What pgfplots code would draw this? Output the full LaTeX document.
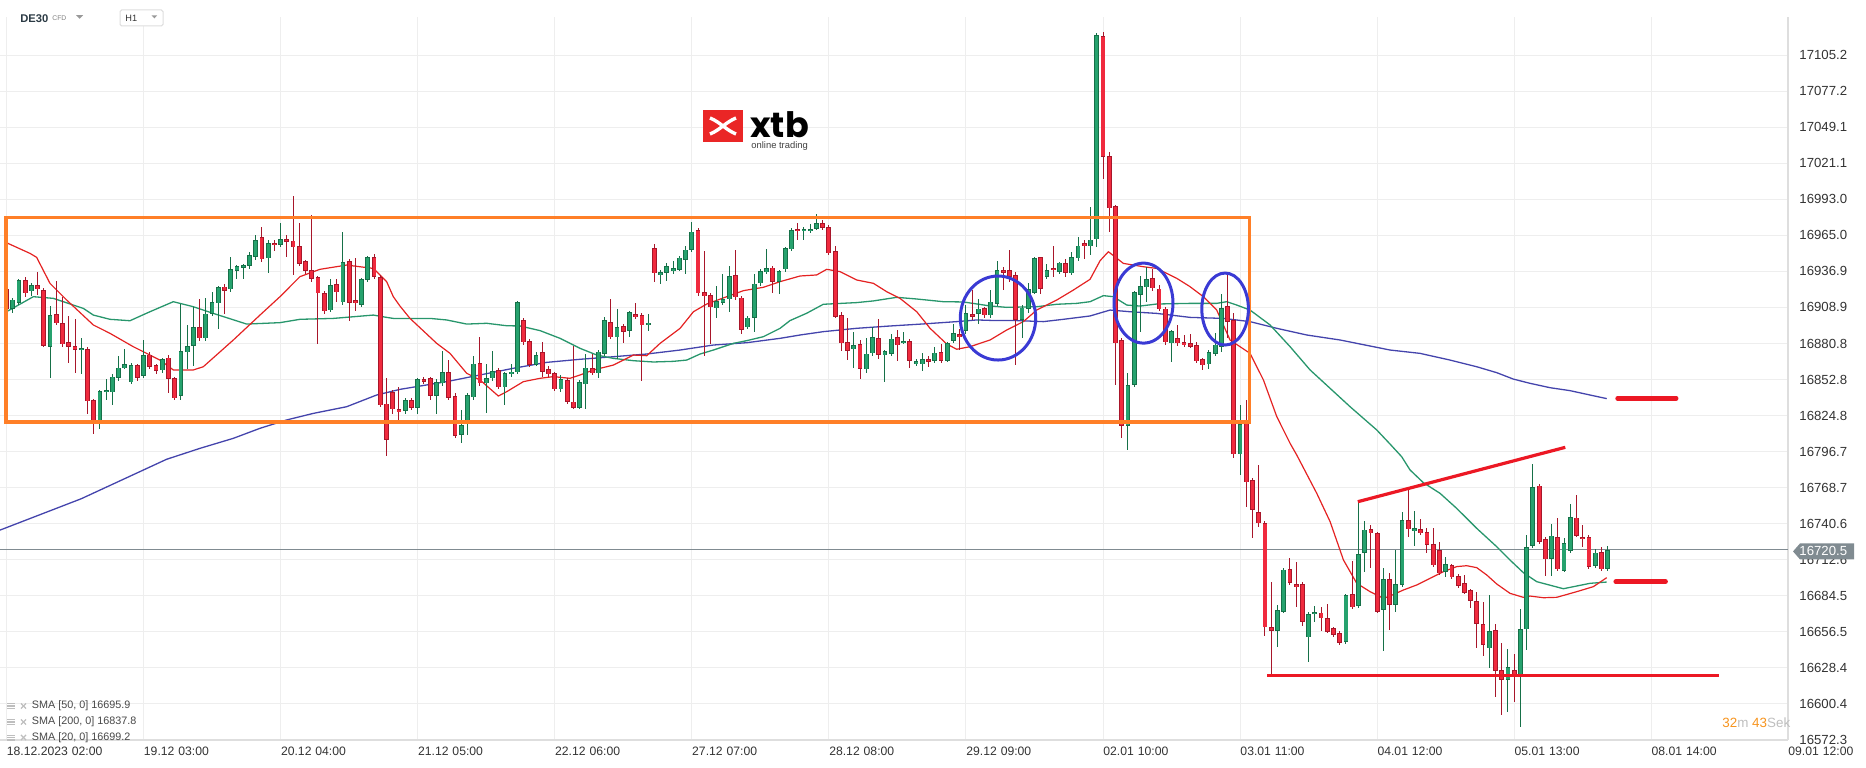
\documentclass[border=0pt]{standalone}
\usepackage{pgfplots}
\pgfplotsset{compat=1.18}
\usepackage{pgfplotstable}
\usepackage{fontspec}
\setmainfont{Liberation Sans}
\newfontfamily\logofont{Poppins}
\usetikzlibrary{shapes.geometric}

\definecolor{upfill}{RGB}{38,162,110}
\definecolor{upline}{RGB}{22,112,72}
\definecolor{dnfill}{RGB}{240,42,62}
\definecolor{dnline}{RGB}{168,22,42}
\definecolor{smared}{RGB}{228,34,34}
\definecolor{smagreen}{RGB}{40,150,108}
\definecolor{smablue}{RGB}{68,68,172}
\definecolor{gridc}{RGB}{238,238,238}
\definecolor{axisc}{RGB}{222,222,222}
\definecolor{boxorange}{RGB}{255,127,39}
\definecolor{ellblue}{RGB}{58,58,212}
\definecolor{annred}{RGB}{236,24,36}
\definecolor{pricegray}{RGB}{128,139,145}
\definecolor{txt}{RGB}{51,51,51}
\definecolor{hdr}{RGB}{43,58,68}
\definecolor{xtbred}{RGB}{234,38,38}
\definecolor{timeorange}{RGB}{247,148,30}
\definecolor{lightg}{RGB}{190,190,190}

\pgfplotstableread{
k o h l c
1 16908.1 16916 16904.8 16915.1
2 16912.5 16931 16911 16930.2
4 16921.4 16928.4 16918 16926
7 16878.3 16909.9 16854.2 16902.7
12 16875.5 16885.1 16857.3 16877
15 16820.7 16844.6 16814.5 16843.6
16 16842.8 16853.2 16836.8 16844.6
17 16842.8 16857 16833.2 16855.2
18 16853.9 16871.3 16852 16862.2
19 16861.5 16876.5 16860.7 16864.8
20 16850.6 16866 16849 16864
22 16855.7 16883.5 16854 16871.8
25 16859.9 16869.8 16858 16868.5
28 16840.2 16911.5 16836.8 16874.7
29 16873.9 16895.2 16860.7 16879.1
30 16879.1 16909.4 16863.5 16893.6
32 16884.8 16916.7 16883 16904.2
33 16904.2 16920.6 16902 16912.8
34 16912 16925.5 16891.8 16924.5
36 16922.9 16948.3 16921 16938.5
37 16937.2 16941.8 16931.2 16940.8
38 16939.8 16943 16931.2 16941.8
39 16941.1 16952.2 16939 16949.4
40 16948.3 16965.2 16946 16961
42 16947 16961.3 16935.9 16958.7
44 16957.7 16974.8 16956 16961.8
52 16906.6 16931.2 16905 16926.5
54 16912.8 16967.2 16911 16944.2
57 16911 16932 16909 16930.7
58 16930.2 16949 16929 16947.8
64 16828.5 16838 16826 16836.8
66 16831.1 16854.2 16826.4 16853.2
69 16840.2 16853.2 16825.7 16850.8
70 16849.8 16874.9 16848 16858.3
73 16809.9 16829 16803.1 16817.1
74 16817.9 16842 16809.6 16840.7
75 16838.9 16871.3 16837 16865.3
77 16849.8 16864.8 16826.4 16853.7
78 16853.7 16874.9 16852 16859.1
80 16846.7 16859 16833.2 16857.6
81 16856.8 16865.3 16855 16858.9
82 16858.3 16913.8 16857 16912.8
85 16864.3 16874.4 16863 16871.8
89 16845.1 16856.3 16843.5 16852.9
92 16831.1 16852 16830 16850.8
93 16849 16872.6 16829.6 16862.2
95 16857.6 16876 16853.7 16874.4
96 16872.6 16901.7 16871 16899.1
98 16885.6 16907.9 16869.2 16893.6
100 16890.8 16906.5 16886.1 16905
103 16895.4 16903.7 16890.8 16897.2
105 16933.8 16938 16926.8 16936.4
106 16935.9 16943.1 16929.6 16940.8
107 16937.2 16945.5 16934.8 16939.2
108 16938.5 16949 16937 16947.8
109 16946.2 16956.9 16934.8 16954
110 16954 16975.3 16952 16968
114 16908.1 16925.8 16900.3 16913.8
115 16912.5 16935.4 16911 16915.4
116 16915.1 16941.3 16905.5 16933
119 16893.4 16902.5 16892 16901.1
120 16901.1 16934.8 16890 16927.6
121 16927.6 16939 16926 16937.2
122 16936.1 16954.3 16935 16939.2
124 16928.6 16938.5 16919.8 16937.2
125 16938.5 16956 16936.4 16954.8
126 16954 16970.5 16953 16969.1
128 16968 16971.5 16961.3 16970.1
129 16968 16973.8 16967 16970.1
130 16970.1 16982 16969 16974.3
136 16876.3 16890 16861.5 16879.4
138 16860.7 16884.8 16857.6 16873.1
139 16873.1 16893.9 16871.5 16885.6
141 16871.6 16875.7 16851.1 16874.9
142 16873.1 16888.2 16871.5 16884.8
144 16880.9 16889.5 16880.1 16882.5
146 16864.6 16868.5 16863.5 16867.2
147 16864.6 16873.7 16859.7 16868.5
149 16867.2 16877.8 16866 16873.9
151 16867.4 16882 16866 16880.9
152 16883 16896 16881.7 16888.7
154 16890.8 16911 16888.7 16904.3
156 16903.7 16915.9 16896 16908.1
158 16902.7 16922.4 16901 16913.3
159 16912 16945 16909.9 16938
163 16899.6 16910.7 16884.8 16908.9
164 16908.1 16927.6 16904.3 16922.9
165 16920.3 16948.5 16919 16947
167 16932.8 16942.6 16931 16938
169 16936.7 16944.5 16935 16943.9
171 16935.4 16952.2 16934.1 16947.8
172 16947 16963.4 16945.5 16956.9
174 16956.6 16987.2 16949.6 16961.8
175 16961.8 17122.8 16956.1 17120.8
180 16816.9 16857.6 16797.9 16848.5
181 16848.5 16922 16847 16920.6
182 16919 16933.3 16890 16925.5
183 16924.5 16940.5 16913.3 16930.7
187 16880.9 16891.3 16866.6 16890.5
193 16864.6 16875.5 16860.7 16873.9
194 16873.1 16888.7 16871.5 16880.1
195 16878.3 16919 16874.4 16908.1
198 16794.5 16832.9 16778.5 16818.2
204 16657.4 16677.4 16644.9 16673.5
205 16672.2 16706.5 16671 16705.1
209 16652.2 16672.2 16633.3 16670.3
210 16670.1 16676.6 16664.4 16671.7
215 16648.8 16685.9 16647 16685.1
217 16676.8 16757.7 16675 16717
218 16718.3 16742.7 16703.3 16736.2
221 16673.5 16705.9 16641.8 16697.3
223 16677.4 16720.6 16672.2 16693.7
224 16692.9 16749.9 16691.1 16743.5
226 16735.2 16750.7 16723.5 16737
231 16703.3 16714.9 16699.4 16709
238 16643.6 16685.1 16628.1 16657.4
241 16619 16643.1 16594.4 16628.9
243 16622.9 16674 16582.2 16658.4
244 16658.4 16731.5 16642.3 16722.7
245 16723.2 16786.8 16721.5 16769.4
248 16713.6 16740.4 16699.9 16731.5
250 16704 16729.2 16702.8 16725.3
251 16719.3 16755.9 16718 16746.1
255 16708.2 16720.9 16706.5 16718.3
257 16705.6 16723.2 16704 16720.1
}\upcandles

\pgfplotstableread{
k o h l c
0 16923 16925 16905 16907.4
3 16930.2 16932.2 16916.7 16919.8
5 16926 16936.7 16918.5 16922.9
6 16922.4 16924 16878 16879.1
8 16903.5 16929.6 16895 16896.5
9 16896.5 16917.2 16878 16880.1
10 16881.7 16902.2 16865.9 16878.3
11 16878.8 16899.8 16858.1 16876.2
13 16876.2 16878 16826.4 16835.8
14 16836.6 16838 16810.9 16820.7
21 16863.8 16865 16852 16854.2
23 16872.3 16874 16861 16862.7
24 16863.8 16865 16857.3 16859.6
26 16870 16872 16842.5 16853.7
27 16853.7 16855 16836.8 16838.1
31 16893.6 16915.7 16883 16884.8
35 16925.2 16927 16904 16922.1
41 16963.4 16971.1 16944 16946.2
43 16959 16961 16953 16957.1
45 16962.1 16964.9 16947.8 16960.2
46 16961 16996 16934.3 16955.6
47 16956.9 16974.2 16941 16943.1
48 16944.7 16946 16935 16937.2
49 16937.7 16980.5 16929 16931.2
50 16932.2 16933.3 16880.4 16919.8
51 16920.3 16922 16904 16905.8
53 16926.8 16930.9 16913.1 16920.6
55 16944.9 16946.2 16898.5 16912.5
56 16914.6 16947.5 16906.1 16912
59 16947.8 16950.4 16931 16932.8
60 16932.8 16934 16831 16832.7
61 16834.2 16853.9 16793.3 16806.2
62 16843.3 16845 16826.4 16829.6
63 16829.6 16846.7 16821.3 16827.5
65 16836.8 16838.9 16829 16831.1
67 16853.2 16855 16849 16851.1
68 16853.7 16855 16836.8 16840.2
71 16858.3 16867.9 16837 16838.6
72 16839.9 16842 16807 16809.3
76 16865.3 16886.1 16848 16849.8
79 16860.2 16862 16845 16846.7
83 16899.1 16901 16880 16881.7
84 16882.5 16884 16862.5 16864.3
86 16873.9 16881.7 16855 16858.9
87 16860.9 16863.3 16855 16856.8
88 16857.6 16859 16844.1 16845.1
90 16852.4 16854 16834 16835.5
91 16835.8 16879.1 16829.6 16831.1
94 16861.5 16872.6 16856 16857.6
97 16897.5 16915.4 16884 16885.6
99 16894.4 16896 16881.4 16890.2
101 16903.5 16912.3 16900 16901.7
102 16902.9 16904.5 16851.9 16894.9
104 16954.8 16958.2 16928.9 16935.4
111 16968.8 16971.1 16918 16919.8
112 16920.6 16952.7 16871.3 16917.5
113 16918.2 16919.8 16880.4 16908.9
117 16933.8 16953.5 16915 16916.7
118 16916.7 16918 16888.7 16891.8
123 16940 16941.1 16919.8 16928.6
127 16970.1 16974.3 16961.3 16968.3
131 16974.3 16976.9 16969.5 16970.6
132 16971.7 16973 16949.5 16950.9
133 16952.5 16956.9 16900.9 16901.7
134 16902.7 16905.5 16875.2 16880.9
135 16881.9 16900.4 16868 16875.2
137 16880.4 16883.5 16853.2 16861.2
140 16884.8 16899.6 16869 16871.8
143 16885.6 16891.3 16867.4 16879.4
145 16882.5 16884 16861.5 16867.4
148 16868.7 16871.6 16862.8 16866.7
150 16873.9 16880.9 16865.4 16867.4
153 16887.9 16892.6 16875.7 16885.6
155 16903.7 16922.4 16899.1 16901.7
157 16908.1 16909.5 16901 16902.7
160 16938 16940.6 16922.4 16935.9
161 16938 16953.5 16928.9 16932.8
162 16934.1 16936.7 16864.1 16899.1
166 16947.8 16948.3 16919.3 16923.5
168 16939.5 16956.9 16932.8 16938
170 16943.2 16947 16932.8 16935.9
173 16958.7 16961.3 16947 16956.9
176 17120 17122.8 17008.5 17026.1
177 17026.6 17029.5 16967.7 16985.9
178 16987.7 16989 16848.5 16880.9
179 16883.5 16885 16807 16816.9
184 16931.5 16939.2 16922 16923.7
185 16923.7 16926.3 16906 16907.4
186 16908.1 16909.5 16880 16881.7
188 16884.8 16895.2 16879.1 16880.9
189 16881.7 16887.4 16878.3 16879.6
190 16880.9 16888.2 16877 16878.3
191 16879.6 16882.2 16865.5 16866.9
192 16868.5 16870 16860.7 16863.8
196 16909.9 16934.8 16884.8 16897.8
197 16899.1 16905 16792 16794.5
199 16819.2 16836.8 16753.8 16772.8
200 16774.6 16776 16729.2 16751.2
201 16749.9 16786.3 16737.8 16740.9
202 16740.9 16742.5 16653.2 16660
203 16660 16695.5 16622.9 16657.1
206 16705.1 16713.6 16692.9 16694.7
207 16693.7 16711.1 16676.1 16691.6
208 16693.7 16695 16661 16664.4
211 16671.4 16675.5 16657.4 16667
212 16667 16678.1 16655.3 16656.6
213 16659.2 16660.5 16652.5 16654
214 16655.8 16657 16646.3 16648.1
216 16685.9 16711.8 16674 16675.5
219 16736.2 16739.6 16705.9 16733.1
220 16733.1 16734.5 16671.4 16672.2
222 16697.3 16702 16657.9 16677.4
225 16743.5 16767.3 16730 16736.2
227 16736.2 16744.2 16731.5 16733.1
228 16733.9 16737.2 16717.5 16724.5
229 16724.5 16737.2 16707.2 16708.2
230 16720.1 16726.6 16700.5 16702
232 16708.2 16709.5 16697.5 16698.9
233 16699.9 16701.5 16690.8 16692.1
234 16694.7 16700.7 16686 16687.2
235 16689 16690.3 16674.8 16680.4
236 16680.4 16687.7 16643.6 16662.6
237 16662.6 16679.9 16637.7 16646.2
239 16657.9 16662.6 16606 16626
240 16626.8 16647.5 16591.8 16619
242 16626.8 16639.7 16602.1 16621.6
246 16770.4 16771.2 16725 16726.6
247 16728.4 16730 16699.9 16712.9
249 16730.5 16744.8 16703.5 16705.1
252 16745.5 16762.9 16730 16731.5
253 16730.5 16739.3 16722.2 16729.2
254 16730 16731.8 16705.3 16707.2
256 16718.3 16722.2 16703.5 16705.1
}\dncandles

\pgfplotsset{
  wick/.style={draw=none, mark=none, forget plot,
    error bars/.cd, y dir=both, y explicit, error mark=none,
    error bar style={draw=#1, line width=0.5pt}},
  body/.style 2 args={draw=none, mark=none, forget plot,
    error bars/.cd, y dir=both, y explicit, error mark=none,
    error bar style={draw=#1, line width=#2}},
}

\begin{document}
\begin{tikzpicture}
\begin{axis}[
  at={(0,0)}, anchor=south west,
  scale only axis, width=894pt, height=361.5pt,
  xmin=-1.04, xmax=285.95, ymin=16572.3, ymax=17134.8,
  scaled x ticks=false, scaled y ticks=false,
  axis x line=bottom, axis y line=right,
  axis line style={-, draw=axisc, line width=0.6pt},
  major tick length=0pt,
  grid=major, major grid style={draw=gridc, line width=0.5pt},
  xtick={0,22,44,66,88,110,132,154,176,198,220,242,264,285.95},
  xticklabels={18.12.2023\hspace{0.32em}02:00, 19.12\hspace{0.32em}03:00, 20.12\hspace{0.32em}04:00, 21.12\hspace{0.32em}05:00, 22.12\hspace{0.32em}06:00, 27.12\hspace{0.32em}07:00, 28.12\hspace{0.32em}08:00, 29.12\hspace{0.32em}09:00, 02.01\hspace{0.32em}10:00, 03.01\hspace{0.32em}11:00, 04.01\hspace{0.32em}12:00, 05.01\hspace{0.32em}13:00, 08.01\hspace{0.32em}14:00, 09.01\hspace{0.32em}12:00},
  xticklabel style={anchor=west, inner sep=0pt, yshift=-5.5pt, font=\fontsize{6.1}{7}\selectfont, text=txt},
  ytick={16572.3,16600.4,16628.4,16656.5,16684.5,16712.6,16740.6,16768.7,16796.7,16824.8,16852.8,16880.8,16908.9,16936.9,16965.0,16993.0,17021.1,17049.1,17077.2,17105.2},
  yticklabels={16572.3,16600.4,16628.4,16656.5,16684.5,16712.6,16740.6,16768.7,16796.7,16824.8,16852.8,16880.8,16908.9,16936.9,16965.0,16993.0,17021.1,17049.1,17077.2,17105.2},
  yticklabel pos=right,
  yticklabel style={anchor=west, inner sep=0pt, xshift=5.5pt, font=\fontsize{6.6}{7}\selectfont, text=txt},
]
% current price line
\addplot[pricegray, line width=0.5pt, forget plot] coordinates {(-1.04,16720.5) (285.95,16720.5)};

% SMA 200 (blue)
\addplot[smablue, line width=0.65pt, line join=round, forget plot] coordinates {
(-1.04,16735.6) (12,16760) (25.7,16790.7) (31.05,16799.2) (36.41,16807) (40.69,16814.8) (44.97,16821.3) (49.25,16826.4) (54.6,16831.6) (59.41,16840.7) (63.16,16845.1) (70.65,16851.1) (76.01,16856.3) (81.36,16861.5) (86.71,16866.1) (92.07,16868.5) (97.42,16870.5) (102.77,16872.6) (108.12,16875.7) (113.47,16879.6) (118.82,16881.4) (124.17,16884.8) (127.38,16887.4) (131.11,16890) (136.46,16892.6) (141.81,16894.4) (147.16,16896) (152.52,16897.8) (155.73,16899.1) (158.94,16898.6) (162.15,16898.6) (166.43,16897.8) (169.64,16899.6) (173.92,16902.2) (177.13,16906.8) (180.34,16905.5) (184.62,16904.2) (189.97,16901.1) (195.32,16900.3) (199.6,16897.8) (203.89,16892.6) (208.7,16887.4) (214.06,16883.5) (219.41,16878.3) (222.07,16875.7) (226.89,16873.1) (231.7,16867.9) (235.98,16862.7) (239.19,16858.1) (241.86,16853.1) (244.54,16849.8) (247.75,16846.4) (250.96,16844.1) (254.17,16840.7) (256.85,16837.9)};

% SMA 50 (green)
\addplot[smagreen, line width=0.65pt, line join=round, forget plot] coordinates {
(0,16905.5) (4.31,16917.2) (7.52,16915.9) (12.33,16908.1) (13.94,16902.9) (16.61,16899.6) (19.82,16898.5) (23.03,16905.5) (26.78,16913.3) (29.99,16909.4) (33.2,16904.2) (38.55,16895.9) (43.9,16897) (47.11,16899.6) (52.46,16900.3) (58.88,16902.9) (61.02,16901.1) (62.09,16900.3) (67.98,16900.3) (70.65,16899.1) (73.87,16895.9) (77.08,16896.5) (80.29,16894.6) (82.43,16894.4) (85.64,16890.8) (88.85,16884.8) (92.07,16877) (94.74,16871.8) (97.42,16869.2) (100.63,16867.4) (103.84,16866.4) (107.05,16866.9) (109.19,16867.9) (111.33,16872.6) (113.47,16875.7) (116.68,16880.9) (118.82,16883) (121.5,16886.1) (124.17,16892.6) (125.76,16898.6) (128.43,16904.3) (131.11,16911.3) (136.46,16912.6) (139.14,16913.9) (142.88,16916.7) (146.1,16915.4) (150.38,16913.3) (153.59,16913.1) (157.87,16910) (160.55,16908.9) (165.36,16909.4) (168.57,16911.3) (171.78,16912) (173.92,16913.3) (176.06,16918) (177.67,16917.2) (179.81,16910.7) (181.95,16909.9) (184.62,16911.5) (189.97,16912) (194.25,16912) (195.86,16913.3) (197.46,16910.7) (199.6,16906.8) (202.82,16895.2) (206.03,16878.3) (209.24,16860.2) (212.45,16845.9) (215.66,16831.6) (219.94,16813.5) (222.08,16802.5) (223.94,16792.7) (225.28,16782.4) (227.42,16772.5) (230.1,16764.2) (232.77,16752.5) (235.98,16737) (239.19,16722.7) (241.33,16712.3) (243.47,16702.5) (245.61,16695.5) (249.89,16690) (254.17,16694.2) (256.85,16695.2)};

% SMA 20 (red)
\addplot[smared, line width=0.6pt, line join=round, forget plot] coordinates {
(0,16959.2) (3.77,16950.9) (4.84,16947.8) (6.98,16927.6) (9.66,16914.6) (13.94,16895.2) (16.61,16888.7) (20.35,16878.3) (24.63,16867.9) (26.78,16860.2) (29.99,16860.2) (31.59,16862.7) (36.41,16883.5) (40.69,16902.9) (43.9,16917.2) (47.11,16932.8) (50.32,16938.5) (54.6,16941.8) (58.88,16939.2) (61.02,16928.9) (62.09,16917.2) (63.16,16909.9) (64.77,16900.3) (69.05,16880.9) (71.19,16873.1) (73.87,16857.6) (76.01,16852.4) (78.95,16839.9) (80.29,16843.3) (82.97,16851.1) (85.64,16853.7) (87.78,16855) (90.46,16853.7) (92.07,16856.3) (94.21,16860.2) (97.42,16864) (100.63,16871.8) (102.77,16871.3) (104.91,16880.9) (108.12,16892.6) (110.26,16905.5) (112.4,16911.5) (115.61,16917.2) (118.29,16921.9) (121.5,16924.5) (124.17,16928.9) (127.38,16933.3) (130.04,16934.1) (131.65,16938.5) (133.79,16936.7) (136.46,16930.2) (139.14,16927.6) (141.28,16921.1) (143.42,16915.9) (146.1,16905.5) (148.24,16892.6) (150.91,16880.4) (152.52,16876.3) (154.66,16878.3) (157.87,16883.5) (160.55,16891.3) (163.22,16897.8) (165.36,16906.8) (168.57,16914.6) (171.25,16922.4) (173.92,16930.7) (175.53,16945.2) (176.86,16952.2) (179.27,16943.1) (182.48,16940.5) (184.62,16939.2) (187.83,16931.5) (189.97,16925) (192.11,16917.2) (194.25,16906.8) (196.39,16883.5) (198,16878.3) (199.6,16873.1) (201.75,16852.4) (203.89,16823.9) (206.03,16803.1) (207.1,16794) (210.31,16764.2) (212.45,16742.2) (214.59,16712.4) (216.73,16694.2) (218.87,16687.7) (221.01,16682.5) (222.07,16684.3) (224.21,16689) (226.35,16692.9) (228.49,16698.1) (230.64,16703.3) (232.77,16707.2) (234.38,16707.9) (235.98,16706.4) (237.59,16700.7) (239.19,16693.7) (241.33,16686.4) (243.47,16683.3) (244.54,16684.3) (246.68,16683) (248.82,16683.3) (252.03,16687.7) (254.7,16691.6) (256.85,16698.6)};

% candles: wicks
\addplot[wick=upline] table[x=k, y expr={(\thisrow{h}+\thisrow{l})/2}, y error expr={(\thisrow{h}-\thisrow{l})/2}] {\upcandles};
\addplot[wick=dnline] table[x=k, y expr={(\thisrow{h}+\thisrow{l})/2}, y error expr={(\thisrow{h}-\thisrow{l})/2}] {\dncandles};
% bodies outline
\addplot[body={upline}{2.4pt}] table[x=k, y expr={(\thisrow{o}+\thisrow{c})/2}, y error expr={max(abs(\thisrow{c}-\thisrow{o})/2,0.6)}] {\upcandles};
\addplot[body={dnline}{2.4pt}] table[x=k, y expr={(\thisrow{o}+\thisrow{c})/2}, y error expr={max(abs(\thisrow{c}-\thisrow{o})/2,0.6)}] {\dncandles};
% bodies fill
\addplot[body={upfill}{1.55pt}] table[x=k, y expr={(\thisrow{o}+\thisrow{c})/2}, y error expr={max(abs(\thisrow{c}-\thisrow{o})/2-0.6,0)}] {\upcandles};
\addplot[body={dnfill}{1.55pt}] table[x=k, y expr={(\thisrow{o}+\thisrow{c})/2}, y error expr={max(abs(\thisrow{c}-\thisrow{o})/2-0.6,0)}] {\dncandles};

% annotations
\draw[boxorange, line width=1.75pt] (axis cs:-0.08,16978.9) rectangle (axis cs:199.55,16819.9);
\node[draw=ellblue, line width=1.5pt, ellipse, minimum width=37.7pt, minimum height=42pt, inner sep=0pt] at (axis cs:159.15,16900.6) {};
\node[draw=ellblue, line width=1.5pt, ellipse, minimum width=29.5pt, minimum height=40pt, inner sep=0pt] at (axis cs:182.5,16912.2) {};
\node[draw=ellblue, line width=1.5pt, ellipse, minimum width=23.3pt, minimum height=36pt, inner sep=0pt] at (axis cs:195.6,16907.6) {};
\draw[annred, line width=1.6pt] (axis cs:202.4,16622.4) -- (axis cs:274.8,16622.4);
\draw[annred, line width=1.6pt] (axis cs:216.9,16757.7) -- (axis cs:250.2,16800.0);
\draw[annred, line width=2.3pt, line cap=round] (axis cs:258.6,16838.1) -- (axis cs:268.0,16838.1);
\draw[annred, line width=2.3pt, line cap=round] (axis cs:258.3,16695.5) -- (axis cs:266.3,16695.5);
\end{axis}

% header
\node[anchor=west, inner sep=0pt, font=\bfseries\fontsize{5.6}{6}\selectfont, text=hdr] at (10pt,360.5pt) {DE30};
\node[anchor=west, inner sep=0pt, font=\fontsize{3.4}{4}\selectfont, text=gray] at (26pt,360.8pt) {CFD};
\fill[gray!80] (38pt,362.4pt) -- (41.6pt,362.4pt) -- (39.8pt,360.6pt) -- cycle;
\draw[draw=black!13, fill=white, line width=0.5pt, rounded corners=0.8pt] (60pt,365pt) rectangle (81.5pt,357pt);
\node[anchor=west, inner sep=0pt, font=\fontsize{4.6}{5}\selectfont, text=txt] at (62.5pt,360.6pt) {H1};
\fill[gray!80] (75.8pt,362.3pt) -- (78.6pt,362.3pt) -- (77.2pt,360.8pt) -- cycle;

% logo
\fill[xtbred] (351.5pt,299pt) rectangle (371.5pt,315pt);
\draw[white, line width=1.7pt] (355pt,303pt) .. controls (360pt,305pt) and (363pt,309pt) .. (368pt,311pt);
\draw[white, line width=1.7pt] (355pt,311pt) .. controls (360pt,309pt) and (363pt,305pt) .. (368pt,303pt);
\node[anchor=base west, inner sep=0pt, font=\logofont\bfseries\fontsize{17.5}{18}\selectfont] at (375pt,301.3pt) {xtb};
\node[anchor=base west, inner sep=0pt, font=\fontsize{4.7}{5}\selectfont, text=black!75] at (375.5pt,295.8pt) {online trading};

% SMA legend
\foreach \yy/\lab in {17/{SMA [50, 0] 16695.9}, 9/{SMA [200, 0] 16837.8}, 1.25/{SMA [20, 0] 16699.2}} {
  \fill[lightg] (3.5pt,\yy pt+1.5pt) rectangle (7.5pt,\yy pt+0.9pt);
  \fill[lightg] (3.5pt,\yy pt+0.3pt) rectangle (7.5pt,\yy pt-0.3pt);
  \fill[lightg] (3.5pt,\yy pt-0.9pt) rectangle (7.5pt,\yy pt-1.5pt);
  \draw[lightg, line width=0.6pt] (10.5pt,\yy pt+1.3pt) -- (13pt,\yy pt-1.3pt);
  \draw[lightg, line width=0.6pt] (10.5pt,\yy pt-1.3pt) -- (13pt,\yy pt+1.3pt);
  \node[anchor=west, inner sep=0pt, font=\fontsize{5.4}{6}\selectfont, text=black!72] at (15.8pt,\yy pt) {\lab};
}

% timer
\node[anchor=west, inner sep=0pt, font=\fontsize{6.7}{7}\selectfont] at (861pt,8.6pt) {\textcolor{timeorange}{32}\textcolor{lightg}{m} \textcolor{timeorange}{43}\textcolor{lightg}{Sek}};

% current price tag
\fill[pricegray] (896.5pt,94.3pt) -- (900pt,98.3pt) -- (927pt,98.3pt) -- (927pt,90.3pt) -- (900pt,90.3pt) -- cycle;
\node[anchor=west, inner sep=0pt, font=\fontsize{6.6}{7}\selectfont, text=white] at (899.5pt,94.3pt) {16720.5};

\pgfresetboundingbox
\path[use as bounding box] (0,-13.5pt) rectangle (933pt,370pt);
\end{tikzpicture}
\end{document}
